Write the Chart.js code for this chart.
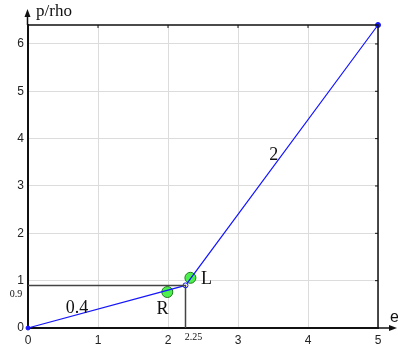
<!DOCTYPE html>
<html lang="en">
<head>
  <meta charset="UTF-8">
  <title>p/rho vs e</title>
  <script src="https://cdn.jsdelivr.net/npm/chart.js"></script>
  <style>
    body {
      margin: 0;
      background: #fff;
    }
    canvas {
      display: block;
    }
  </style>
</head>
<body>
  <canvas id="stateChart" width="398" height="347"></canvas>

  <script>
    // axis ticks
    const xTicks = [0, 1, 2, 3, 4, 5];
    const yTicks = [0, 1, 2, 3, 4, 5, 6];

    // piecewise curve: slope 0.4 up to e = 2.25, then slope 2
    const curveE = [0, 2.25, 5];
    const curvePRho = [0, 0.9, 6.4];

    // marked states
    const stateNames = ['R', 'L'];
    const stateE = [1.99, 2.32];
    const statePRho = [0.76, 1.06];

    // kink guide values
    const kinkE = 2.25;
    const kinkPRho = 0.9;

    const slopeNames = ['0.4', '2'];

    const serif = '"Liberation Serif", "DejaVu Serif", serif';
    const sans = '"Liberation Sans", Arial, sans-serif';

    // where the text notes sit, in data units
    const notes = [
      { text: slopeNames[0], x: 0.7, y: 0.42, size: 18 },
      { text: slopeNames[1], x: 3.51, y: 3.65, size: 18 },
      { text: stateNames[0], x: 1.92, y: 0.39, size: 18 },
      { text: stateNames[1], x: 2.55, y: 1.03, size: 18 }
    ];

    const annotations = {
      id: 'annotations',
      afterDraw(chart) {
        const { ctx, chartArea: a, scales: { x, y } } = chart;
        ctx.save();

        // top and right frame
        ctx.strokeStyle = '#111';
        ctx.lineWidth = 1.5;
        ctx.beginPath();
        ctx.moveTo(a.left, a.top);
        ctx.lineTo(a.right, a.top);
        ctx.lineTo(a.right, a.bottom);
        ctx.stroke();

        // little inner ticks on top and right edges
        ctx.lineWidth = 1;
        ctx.beginPath();
        xTicks.slice(1, -1).forEach(v => {
          const px = x.getPixelForValue(v);
          ctx.moveTo(px, a.top);
          ctx.lineTo(px, a.top + 3);
        });
        yTicks.slice(1).forEach(v => {
          const py = y.getPixelForValue(v);
          ctx.moveTo(a.right, py);
          ctx.lineTo(a.right - 3, py);
        });
        ctx.stroke();

        // axis arrows
        ctx.fillStyle = '#111';
        ctx.lineWidth = 1.5;
        ctx.beginPath();
        ctx.moveTo(a.left - 0.5, a.top);
        ctx.lineTo(a.left - 0.5, 14);
        ctx.moveTo(a.right, a.bottom);
        ctx.lineTo(390, a.bottom);
        ctx.stroke();
        ctx.beginPath();
        ctx.moveTo(a.left - 0.5, 9);
        ctx.lineTo(a.left - 3.5, 17);
        ctx.lineTo(a.left + 2.5, 17);
        ctx.closePath();
        ctx.fill();
        ctx.beginPath();
        ctx.moveTo(397, a.bottom);
        ctx.lineTo(389, a.bottom - 3);
        ctx.lineTo(389, a.bottom + 3);
        ctx.closePath();
        ctx.fill();

        // axis titles
        ctx.fillStyle = '#111';
        ctx.textBaseline = 'middle';
        ctx.textAlign = 'left';
        ctx.font = '17px ' + serif;
        ctx.fillText('p/rho', 36, 12);
        ctx.font = '16px ' + sans;
        ctx.fillText('e', 390, 318);

        // kink values
        ctx.font = '10px ' + serif;
        ctx.textAlign = 'center';
        ctx.fillText(String(kinkPRho), 16, y.getPixelForValue(kinkPRho) + 9);
        ctx.fillText(String(kinkE), x.getPixelForValue(kinkE) + 8, 337);

        // slope and state names
        notes.forEach(n => {
          ctx.font = n.size + 'px ' + serif;
          ctx.fillText(n.text, x.getPixelForValue(n.x), y.getPixelForValue(n.y));
        });

        ctx.restore();
      }
    };

    const ctx = document.getElementById('stateChart').getContext('2d');
    new Chart(ctx, {
      type: 'line',
      data: {
        datasets: [
          {
            // guide lines to the kink
            data: [
              { x: 0, y: kinkPRho },
              { x: kinkE, y: kinkPRho },
              { x: kinkE, y: 0 }
            ],
            borderColor: '#444',
            borderWidth: 1.5,
            pointRadius: 0
          },
          {
            data: curveE.map((e, i) => ({ x: e, y: curvePRho[i] })),
            borderColor: '#1414ff',
            borderWidth: 1.2,
            pointRadius: [2, 2.5, 2.5],
            pointBackgroundColor: ['#1414ff', '#ffffff', '#1414ff'],
            pointBorderColor: '#1414ff',
            pointBorderWidth: 1,
            clip: 6
          },
          {
            data: stateE.map((e, i) => ({ x: e, y: statePRho[i] })),
            showLine: false,
            pointRadius: 5.5,
            pointBackgroundColor: '#4ef04e',
            pointBorderColor: '#1f7a1f',
            pointBorderWidth: 1
          }
        ]
      },
      options: {
        responsive: false,
        animation: false,
        devicePixelRatio: 1,
        layout: { padding: { left: 0, right: 20, top: 25, bottom: 0 } },
        plugins: {
          legend: { display: false },
          tooltip: { enabled: false }
        },
        scales: {
          x: {
            type: 'linear',
            min: 0,
            max: 5,
            afterBuildTicks: s => { s.ticks = xTicks.map(v => ({ value: v })); },
            afterFit: s => { s.height = 19; },
            grid: { color: '#dcdcdc', drawTicks: false },
            border: { color: '#111', width: 2 },
            ticks: {
              padding: 5,
              color: '#222',
              font: { family: sans, size: 12 }
            }
          },
          y: {
            type: 'linear',
            min: 0,
            max: 6.4,
            afterBuildTicks: s => { s.ticks = yTicks.map(v => ({ value: v })); },
            afterFit: s => { s.width = 28; },
            grid: { color: '#dcdcdc', drawTicks: false },
            border: { color: '#111', width: 2 },
            ticks: {
              padding: 4,
              color: '#222',
              font: { family: sans, size: 12 }
            }
          }
        }
      },
      plugins: [annotations]
    });
  </script>
</body>
</html>
